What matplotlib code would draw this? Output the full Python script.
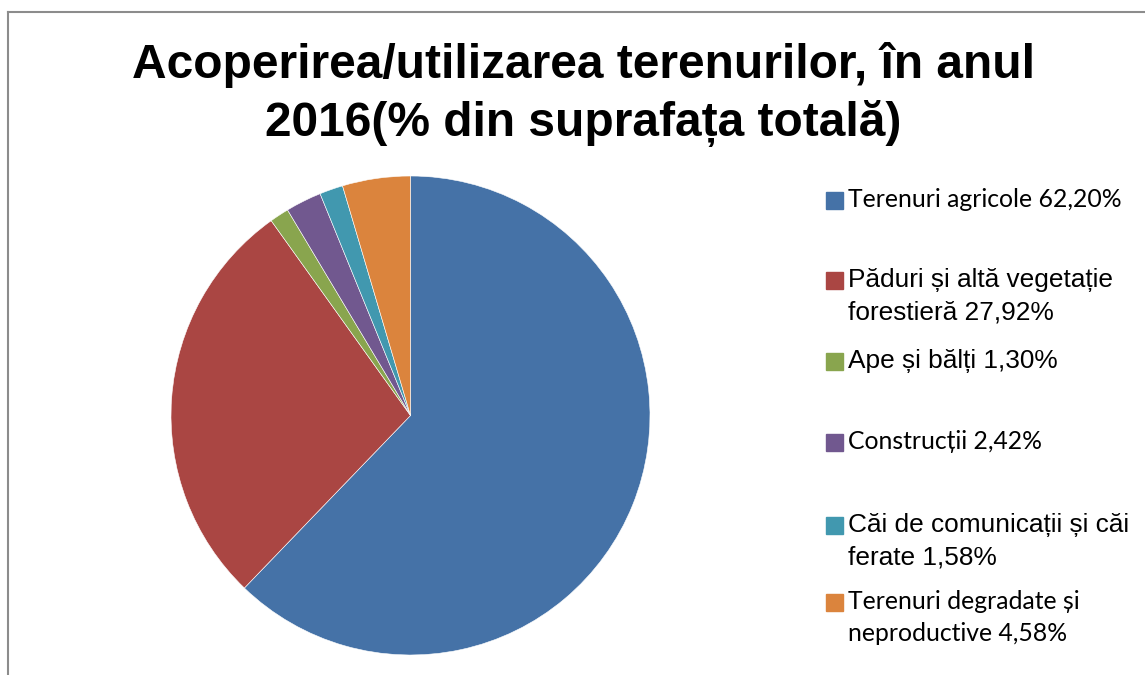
import matplotlib
matplotlib.use("Agg")
import matplotlib.pyplot as plt
from matplotlib.patches import Rectangle
from matplotlib.lines import Line2D

categories = [
    "Terenuri agricole 62,20%",
    "Păduri și altă vegetație\nforestieră 27,92%",
    "Ape și bălți 1,30%",
    "Construcții 2,42%",
    "Căi de comunicații și căi\nferate 1,58%",
    "Terenuri degradate și\nneproductive 4,58%",
]
values = [62.20, 27.92, 1.30, 2.42, 1.58, 4.58]
colors = ["#4572A7", "#AA4643", "#89A54E", "#71588F", "#4198AF", "#DB843D"]
label_fonts = ["Lato", "Liberation Sans", "Liberation Sans", "Lato", "Liberation Sans", "Lato"]
title_lines = ["Acoperirea/utilizarea terenurilor, în anul",
               "2016(% din suprafața totală)"]

W, H = 1145, 675
fig = plt.figure(figsize=(W / 100, H / 100), dpi=100)


def fx(px):
    return px / W


def fy(py):
    return 1 - py / H


# frame lines (top and left, chart area is cropped at right/bottom)
fig.add_artist(Line2D([fx(8), fx(8)], [0, fy(12)], color="#8c8c8c", lw=1.5))
fig.add_artist(Line2D([fx(8), 1], [fy(12), fy(12)], color="#8c8c8c", lw=1.5))

# pie
cx, cy, r = 410.5, 415.5, 239.5
ax = fig.add_axes([fx(cx - r), fy(cy + r), 2 * r / W, 2 * r / H])
ax.pie(values, colors=colors, startangle=90, counterclock=False,
       wedgeprops=dict(edgecolor="white", linewidth=0.4))
ax.set_xlim(-1, 1)
ax.set_ylim(-1, 1)
ax.set_aspect("equal")
ax.axis("off")

# title
for line, base in zip(title_lines, [78, 136]):
    fig.text(fx(583), fy(base), line, ha="center", va="baseline",
             fontsize=34.5, fontweight="bold", family="Liberation Sans")

# legend
baselines = [207, 287, 368, 449, 532, 609]
line_gap = 32
for lab, col, fnt, b in zip(categories, colors, label_fonts, baselines):
    fig.add_artist(Rectangle((fx(826), fy(b - 7 + 8.5)), 17 / W, 17 / H,
                             color=col, transform=fig.transFigure))
    for i, part in enumerate(lab.split("\n")):
        fig.text(fx(848), fy(b + i * line_gap), part, ha="left", va="baseline",
                 fontsize=17.8 if fnt == "Lato" else 18.9, family=fnt)

fig.savefig("out.png", dpi=100)
